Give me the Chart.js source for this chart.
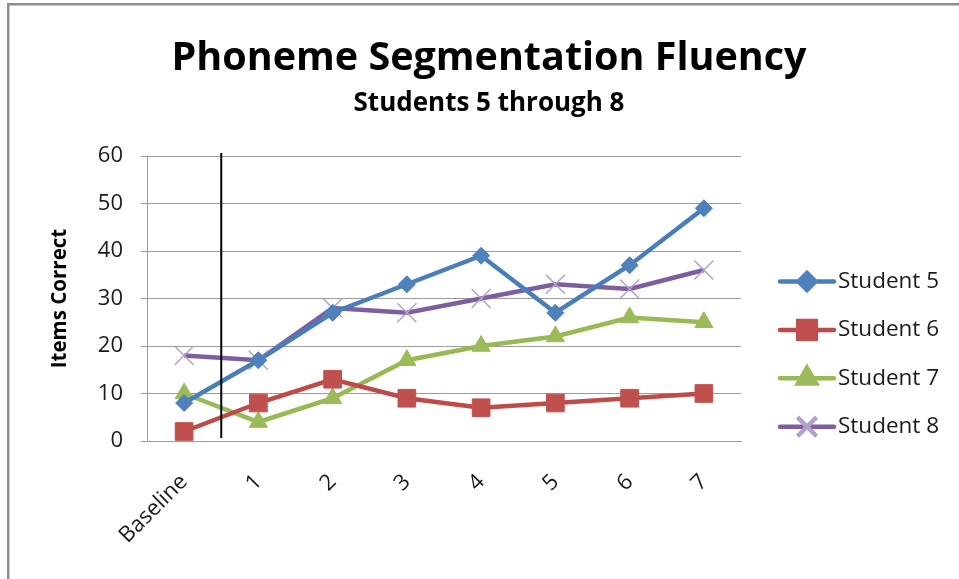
<!DOCTYPE html>
<html>
<head>
<meta charset="utf-8">
<script src="https://cdn.jsdelivr.net/npm/chart.js@4/dist/chart.umd.min.js"></script>
<style>
  html, body { margin: 0; padding: 0; background: #fff; }
  #wrap { width: 959px; height: 579px; position: relative; }
</style>
</head>
<body>
<div id="wrap"><canvas id="c" width="959" height="579"></canvas></div>
<script>
// Sessions and items correct per student
const sessions = ['Baseline', '1', '2', '3', '4', '5', '6', '7'];
const student5 = [8, 17, 27, 33, 39, 27, 37, 49];
const student6 = [2, 8, 13, 9, 7, 8, 9, 10];
const student7 = [10, 4, 9, 17, 20, 22, 26, 25];
const student8 = [18, 17, 28, 27, 30, 33, 32, 36];
const seriesNames = ['Student 5', 'Student 6', 'Student 7', 'Student 8'];
const yMin = 0, yMax = 60, yStep = 10;

const FONT = "'Open Sans', 'DejaVu Sans', sans-serif";
const GRID = '#9c9c9c';
const TEXT = '#1a1a1a';

// white page with the grey frame on top and left
const framePlugin = {
  id: 'frame',
  beforeDraw(chart) {
    const ctx = chart.ctx;
    ctx.save();
    ctx.fillStyle = '#fff';
    ctx.fillRect(0, 0, chart.width, chart.height);
    ctx.fillStyle = '#8e8e8e';
    ctx.fillRect(7, 3, chart.width - 7, 2.5);
    ctx.fillRect(7, 3, 2.5, chart.height - 3);
    ctx.restore();
  }
};

// phase-change line between baseline and the first session
const phaseLine = {
  id: 'phaseLine',
  afterDatasetsDraw(chart) {
    const x = chart.scales.x;
    const area = chart.chartArea;
    const px = (x.getPixelForValue(0) + x.getPixelForValue(1)) / 2;
    const ctx = chart.ctx;
    ctx.save();
    ctx.strokeStyle = '#000';
    ctx.lineWidth = 2;
    ctx.beginPath();
    ctx.moveTo(px, area.top - 3);
    ctx.lineTo(px, area.bottom - 3);
    ctx.stroke();
    ctx.restore();
  }
};

// legend: line sample with marker in the middle, label to the right
const lineLegend = {
  id: 'lineLegend',
  afterDraw(chart) {
    const ctx = chart.ctx;
    const x0 = 780, x1 = 834, tx = 838;
    const rowTop = 281.5, rowGap = 48.4;
    ctx.save();
    chart.data.datasets.forEach((ds, i) => {
      const y = rowTop + i * rowGap;
      ctx.strokeStyle = ds.borderColor;
      ctx.lineWidth = ds.borderWidth;
      ctx.lineCap = 'round';
      ctx.beginPath();
      ctx.moveTo(x0, y);
      ctx.lineTo(x1, y);
      ctx.stroke();
      ctx.lineCap = 'butt';
      ctx.fillStyle = ds.pointBackgroundColor;
      ctx.strokeStyle = ds.pointBorderColor;
      Chart.helpers.drawPoint(ctx, {
        pointStyle: ds.pointStyle,
        radius: ds.pointRadius,
        rotation: 0,
        borderWidth: ds.pointBorderWidth
      }, (x0 + x1) / 2, y);
      ctx.fillStyle = TEXT;
      ctx.font = '22.5px ' + FONT;
      ctx.textAlign = 'left';
      ctx.textBaseline = 'middle';
      ctx.fillText(ds.label, tx, y);
    });
    ctx.restore();
  }
};

function series(label, data, line, marker, style, radius, markerBorder, markerBorderWidth) {
  return {
    label: label,
    data: data,
    borderColor: line,
    backgroundColor: marker,
    borderWidth: 4.5,
    tension: 0,
    pointStyle: style,
    pointRadius: radius,
    pointHoverRadius: radius,
    pointBackgroundColor: marker,
    pointBorderColor: markerBorder,
    pointBorderWidth: markerBorderWidth
  };
}

new Chart(document.getElementById('c'), {
  type: 'line',
  data: {
    labels: sessions,
    datasets: [
      series(seriesNames[0], student5, '#4a7ebb', '#4f81bd', 'rectRot', 8.5, '#4f81bd', 1),
      series(seriesNames[1], student6, '#be4b48', '#c0504d', 'rect', 12.5, '#c0504d', 1),
      series(seriesNames[2], student7, '#98b954', '#9bbb59', 'triangle', 10.5, '#9bbb59', 1),
      series(seriesNames[3], student8, '#7d5fa0', '#8064a2', 'crossRot', 13.5, '#b3a2c7', 1.5)
    ]
  },
  options: {
    responsive: false,
    animation: false,
    devicePixelRatio: 1,
    layout: { padding: { left: 19, right: 0, top: 0, bottom: 0 } },
    plugins: {
      legend: { display: false },
      tooltip: { enabled: false },
      title: {
        display: true,
        text: 'Phoneme Segmentation Fluency',
        color: '#000',
        font: { family: FONT, size: 39.5, weight: 'bold', lineHeight: 1.2 },
        padding: { top: 35, bottom: 0 }
      },
      subtitle: {
        display: true,
        text: 'Students 5 through 8',
        color: '#000',
        font: { family: FONT, size: 26, weight: 'bold', lineHeight: 1.2 },
        padding: { top: 6, bottom: 36.4 }
      }
    },
    scales: {
      x: {
        offset: true,
        grid: { display: false },
        border: { display: true, color: GRID, width: 1 },
        ticks: {
          minRotation: 45,
          maxRotation: 45,
          padding: 20,
          color: TEXT,
          font: { family: FONT, size: 22 }
        },
        afterFit(scale) { scale.height = 138; }
      },
      y: {
        min: yMin,
        max: yMax,
        grid: { color: GRID, lineWidth: 1, tickLength: 6, tickColor: GRID },
        border: { display: true, color: GRID, width: 1 },
        ticks: {
          stepSize: yStep,
          padding: 18,
          color: TEXT,
          font: { family: FONT, size: 22 }
        },
        title: {
          display: true,
          text: 'Items Correct',
          color: '#000',
          font: { family: FONT, size: 20.5, weight: 'bold', lineHeight: 1.2 },
          padding: { top: 28.7, bottom: 0 }
        },
        afterFit(scale) { scale.width = 128; }
      },
      // empty right-hand band that holds the legend
      legendBand: {
        type: 'linear',
        position: 'right',
        display: true,
        grid: { display: false },
        border: { display: false },
        ticks: { display: false },
        afterFit(scale) { scale.width = 218; }
      }
    }
  },
  plugins: [framePlugin, phaseLine, lineLegend]
});
</script>
</body>
</html>
